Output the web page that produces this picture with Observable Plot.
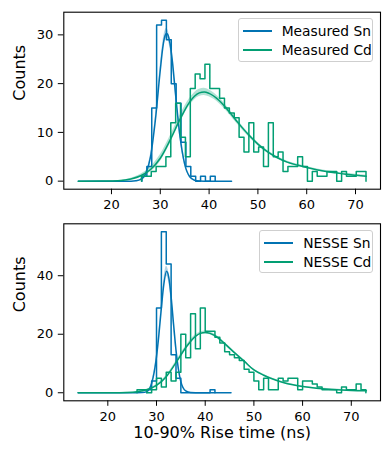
<!DOCTYPE html>
<html><head><meta charset="utf-8">
<script src="https://cdn.jsdelivr.net/npm/d3@7"></script>
<script src="https://cdn.jsdelivr.net/npm/@observablehq/plot@0.6"></script>
<style>
body{margin:0;background:#fff;font-family:"DejaVu Sans",sans-serif;}
#fig{position:relative;width:392px;height:460px;overflow:hidden}
#fig svg{display:block}
.legend{position:absolute;box-sizing:border-box;border:1px solid #cfcfcf;border-radius:3px;background:rgba(255,255,255,0.8);font-size:13.8px;color:#000;font-family:"DejaVu Sans",sans-serif}
.lab{position:absolute;line-height:16px;white-space:nowrap;transform:translateY(-50%)}
.sw{position:absolute;height:0;border-top:2px solid}
</style></head>
<body>
<div id="fig"></div>
<script>
// ---------- data ----------
const colorSn = "#0173B2";
const colorCd = "#029E73";
const binWidth = 1;
const xTicks = [20, 30, 40, 50, 60, 70];

// Top panel (Measured)
const measSnStart = 26.25;
const measSnCounts = [1, 3, 15, 32, 33, 29, 20, 16, 8, 3, 1, 0, 1, 0, 1];
const measCdStart = 26.15;
const measCdCounts = [1, 1, 2, 3, 3, 5, 12, 16, 9, 5, 19, 22, 21, 24, 19, 19, 17, 15, 14, 13, 9, 6, 12, 6, 7, 3, 12, 5, 6, 2, 3, 3, 5, 3, 0, 2, 1, 1, 2, 2, 0, 2, 1, 1, 2, 2];
const measSnFitX  = [13.2, 24, 25, 26, 27, 28, 29, 30, 30.5, 31, 31.3, 31.6, 32, 32.5, 33, 34, 35, 36, 37, 38, 39, 44.6];
const measSnFitY  = [0, 0, 0.08, 0.35, 1.5, 5.0, 12.6, 22.8, 27.3, 29.9, 30.3, 29.9, 28.2, 24.4, 19.2, 9.5, 3.5, 0.95, 0.2, 0.03, 0, 0];
const measSnFitErr= [0, 0, 0.02, 0.08, 0.25, 0.5, 0.8, 1.0, 1.0, 1.0, 1.0, 1.0, 1.0, 1.0, 0.9, 0.6, 0.3, 0.1, 0.03, 0, 0, 0];
const measCdFitX  = [13.2, 18, 20, 22, 24, 26, 28, 30, 32, 34, 36, 37, 38, 39, 40, 42, 44, 46, 48, 50, 52, 54, 56, 58, 60, 62, 64, 66, 68, 70, 72.2];
const measCdFitY  = [0, 0.02, 0.05, 0.15, 0.45, 1.1, 2.4, 4.7, 8.4, 12.6, 16.2, 17.4, 18.1, 18.3, 18.0, 16.6, 14.4, 11.9, 9.6, 7.6, 6.0, 4.8, 3.9, 3.3, 2.8, 2.35, 2.0, 1.7, 1.4, 1.2, 1.0];
const measCdFitErr= [0, 0, 0.02, 0.05, 0.15, 0.3, 0.5, 0.7, 0.8, 0.8, 0.75, 0.75, 0.75, 0.75, 0.7, 0.6, 0.5, 0.45, 0.4, 0.35, 0.3, 0.28, 0.25, 0.22, 0.2, 0.2, 0.2, 0.2, 0.2, 0.2, 0.2];

// Bottom panel (NESSE)
const nesseSnStart = 28;
const nesseSnCounts = [1, 4, 29, 55, 44, 13, 5, 0, 0, 0, 0, 0, 0, 1];
const nesseCdStart = 26;
const nesseCdCounts = [1, 1, 0, 1, 5, 2, 7, 4, 7, 20, 12, 27, 15, 29, 21, 21, 19, 17, 14, 13, 12, 11, 8, 7, 4, 1, 5, 1, 1, 5, 4, 5, 5, 1, 4, 4, 3, 2, 1, 1, 1, 0, 2, 1, 1, 3, 1];
const nesseSnFitX  = [13.9, 26, 27, 28, 29, 30, 30.5, 31, 31.5, 32.05, 32.5, 33, 33.5, 34, 35, 36, 37, 38, 45.3];
const nesseSnFitY  = [0, 0, 0.05, 0.4, 3.2, 12.3, 20, 29, 37, 41.5, 39.6, 32.8, 23.5, 14.6, 3.8, 0.6, 0.05, 0, 0];
const nesseSnFitErr= [0, 0, 0, 0.1, 0.4, 1.0, 1.4, 1.6, 1.7, 1.7, 1.7, 1.6, 1.3, 0.9, 0.3, 0.05, 0, 0, 0];
const nesseCdFitX  = [13.9, 20, 22, 24, 26, 28, 30, 32, 34, 36, 38, 39, 40, 41, 42, 44, 46, 48, 50, 52, 54, 56, 58, 60, 62, 64, 66, 68, 70, 73.1];
const nesseCdFitY  = [0, 0, 0.03, 0.1, 0.35, 1.0, 2.5, 5.5, 10.3, 15.4, 19.3, 20.3, 20.6, 20.3, 19.5, 16.8, 13.7, 10.8, 7.8, 6.0, 4.6, 3.5, 2.7, 2.1, 1.7, 1.4, 1.15, 0.95, 0.8, 0.65];
const nesseCdFitErr= [0, 0, 0, 0.03, 0.1, 0.2, 0.3, 0.4, 0.5, 0.5, 0.5, 0.5, 0.5, 0.5, 0.5, 0.45, 0.4, 0.35, 0.3, 0.3, 0.25, 0.25, 0.2, 0.2, 0.2, 0.2, 0.2, 0.2, 0.2, 0.2];

// ---------- helpers ----------
function steps(start, counts) {
  const pts = [{x: start, y: 0}];
  counts.forEach((c, i) => pts.push({x: start + i * binWidth, y: c}));
  pts.push({x: start + counts.length * binWidth, y: 0});
  return pts;
}
function fit(xs, ys, es) {
  return xs.map((x, i) => ({x, y: ys[i], lo: ys[i] - es[i], hi: ys[i] + es[i]}));
}

function panel(o) {
  const snFit = fit(o.snFitX, o.snFitY, o.snFitErr);
  const cdFit = fit(o.cdFitX, o.cdFitY, o.cdFitErr);
  const marks = [
    Plot.line(steps(o.snStart, o.snCounts), {x: "x", y: "y", curve: "step-after", stroke: colorSn, strokeWidth: 1.5}),
    Plot.areaY(snFit, {x: "x", y1: "lo", y2: "hi", curve: "monotone-x", fill: colorSn, fillOpacity: 0.3}),
    Plot.line(snFit, {x: "x", y: "y", curve: "monotone-x", stroke: colorSn, strokeWidth: 1.5}),
    Plot.line(steps(o.cdStart, o.cdCounts), {x: "x", y: "y", curve: "step-after", stroke: colorCd, strokeWidth: 1.5}),
    Plot.areaY(cdFit, {x: "x", y1: "lo", y2: "hi", curve: "monotone-x", fill: colorCd, fillOpacity: 0.3}),
    Plot.line(cdFit, {x: "x", y: "y", curve: "monotone-x", stroke: colorCd, strokeWidth: 1.5}),
    Plot.axisX({ticks: xTicks, tickSize: 5.5, tickPadding: 5, label: null, fontSize: 13}),
    Plot.axisY({ticks: o.yTicks, tickSize: 5.5, tickPadding: 5, label: null, fontSize: 13}),
    Plot.frame({stroke: "black", strokeWidth: 1.1}),
    Plot.text(["Counts"], {frameAnchor: "left", dx: -44, rotate: -90, fontSize: 16, text: d => d})
  ];
  if (o.xLabel) marks.push(Plot.text([o.xLabel], {frameAnchor: "bottom", dy: 37.5, fontSize: 16, text: d => d}));
  return Plot.plot({
    width: 392, height: o.height,
    marginLeft: 63.3, marginRight: 12, marginTop: o.mt, marginBottom: o.mb,
    x: {domain: o.xDomain},
    y: {domain: o.yDomain},
    style: {fontFamily: "DejaVu Sans", fontSize: "13px", color: "black", background: "white", overflow: "visible"},
    marks
  });
}

function legend(fig, left, top, width, height, entries) {
  const box = document.createElement("div");
  box.className = "legend";
  Object.assign(box.style, {left: left + "px", top: top + "px", width: width + "px", height: height + "px"});
  entries.forEach((e, i) => {
    const cy = 11.7 + i * 19.3;
    const sw = document.createElement("div");
    sw.className = "sw";
    Object.assign(sw.style, {left: "4px", width: "29px", top: (cy - 1) + "px", borderTopColor: e.color});
    const t = document.createElement("div");
    t.className = "lab";
    t.textContent = e.label;
    Object.assign(t.style, {left: "43px", top: cy + "px"});
    box.appendChild(sw); box.appendChild(t);
  });
  fig.appendChild(box);
}

const fig = document.getElementById("fig");
fig.appendChild(panel({
  height: 210, mt: 11.7, mb: 21.3,
  xDomain: [10.23, 75.12], yDomain: [-1.65, 34.65], yTicks: [0, 10, 20, 30],
  snStart: measSnStart, snCounts: measSnCounts, cdStart: measCdStart, cdCounts: measCdCounts,
  snFitX: measSnFitX, snFitY: measSnFitY, snFitErr: measSnFitErr,
  cdFitX: measCdFitX, cdFitY: measCdFitY, cdFitErr: measCdFitErr
}));
fig.appendChild(panel({
  height: 250, mt: 13.3, mb: 59.7,
  xDomain: [10.96, 76.0], yDomain: [-2.75, 57.75], yTicks: [0, 20, 40],
  snStart: nesseSnStart, snCounts: nesseSnCounts, cdStart: nesseCdStart, cdCounts: nesseCdCounts,
  snFitX: nesseSnFitX, snFitY: nesseSnFitY, snFitErr: nesseSnFitErr,
  cdFitX: nesseCdFitX, cdFitY: nesseCdFitY, cdFitErr: nesseCdFitErr,
  xLabel: "10-90% Rise time (ns)"
}));
legend(fig, 237.7, 18.3, 135.6, 43.4, [{label: "Measured Sn", color: colorSn}, {label: "Measured Cd", color: colorCd}]);
legend(fig, 259.3, 230, 114, 43.3, [{label: "NESSE Sn", color: colorSn}, {label: "NESSE Cd", color: colorCd}]);
</script>
</body></html>
